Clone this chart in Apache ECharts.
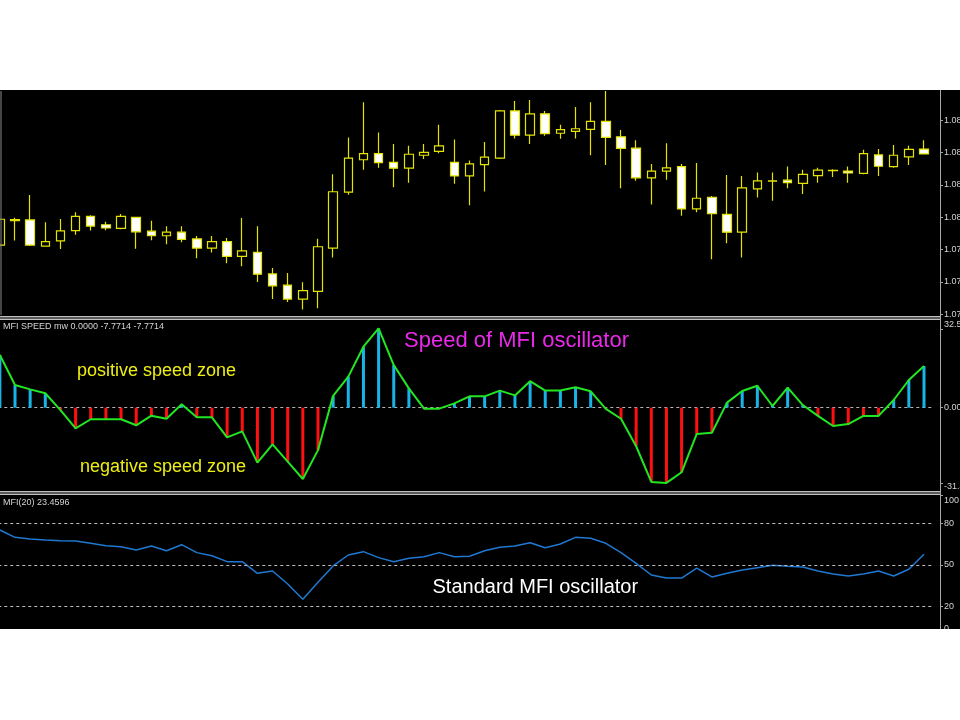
<!DOCTYPE html>
<html><head><meta charset="utf-8">
<script src="https://cdn.jsdelivr.net/npm/echarts@6/dist/echarts.min.js"></script>
<style>html,body{margin:0;padding:0;background:#fff}#c{width:960px;height:720px}</style>
</head><body><div id="c"></div>
<script>
// ---- data ----
const categories = Array.from({length: 62}, (_, i) => String(i));
const open  = [1.07914,1.07990,1.07992,1.07911,1.07927,1.07959,1.08003,1.07977,1.07966,1.08000,
               1.07957,1.07943,1.07954,1.07933,1.07905,1.07925,1.07879,1.07892,1.07825,1.07790,
               1.07747,1.07771,1.07905,1.08078,1.08178,1.08197,1.08170,1.08152,1.08192,1.08204,
               1.08170,1.08128,1.08163,1.08183,1.08329,1.08254,1.08320,1.08260,1.08266,1.08272,
               1.08297,1.08249,1.08214,1.08122,1.08143,1.08157,1.08026,1.08062,1.08009,1.07954,
               1.08088,1.08112,1.08115,1.08105,1.08129,1.08144,1.08143,1.08136,1.08193,1.08157,
               1.08187,1.08211];
const high  = [1.07998,1.07999,1.08069,1.07985,1.07995,1.08016,1.08006,1.07986,1.08010,1.08002,
               1.07989,1.07972,1.07972,1.07942,1.07942,1.07936,1.07998,1.07972,1.07843,1.07828,
               1.07799,1.07934,1.08133,1.08247,1.08356,1.08262,1.08227,1.08221,1.08227,1.08286,
               1.08241,1.08176,1.08233,1.08332,1.08360,1.08363,1.08329,1.08286,1.08341,1.08356,
               1.08391,1.08270,1.08238,1.08165,1.08229,1.08165,1.08168,1.08066,1.08131,1.08128,
               1.08139,1.08139,1.08157,1.08147,1.08153,1.08149,1.08157,1.08209,1.08211,1.08224,
               1.08221,1.08238];
const low   = [1.07910,1.07928,1.07911,1.07910,1.07902,1.07946,1.07959,1.07960,1.07963,1.07903,
               1.07929,1.07917,1.07923,1.07873,1.07891,1.07858,1.07849,1.07800,1.07747,1.07738,
               1.07715,1.07719,1.07876,1.08070,1.08147,1.08153,1.08093,1.08107,1.08180,1.08198,
               1.08104,1.08037,1.08080,1.08180,1.08244,1.08227,1.08252,1.08243,1.08244,1.08192,
               1.08162,1.08090,1.08113,1.08040,1.08116,1.08005,1.08016,1.07870,1.07920,1.07876,
               1.08061,1.08051,1.08090,1.08072,1.08107,1.08125,1.08107,1.08133,1.08128,1.08153,
               1.08162,1.08194];
const close = [1.07994,1.07993,1.07914,1.07925,1.07958,1.08003,1.07973,1.07967,1.08003,1.07955,
               1.07943,1.07954,1.07932,1.07905,1.07925,1.07879,1.07896,1.07824,1.07788,1.07747,
               1.07773,1.07909,1.08079,1.08183,1.08197,1.08169,1.08152,1.08195,1.08201,1.08221,
               1.08128,1.08165,1.08186,1.08329,1.08254,1.08320,1.08259,1.08271,1.08274,1.08297,
               1.08247,1.08213,1.08122,1.08143,1.08153,1.08026,1.08059,1.08011,1.07954,1.08091,
               1.08113,1.08113,1.08107,1.08133,1.08146,1.08145,1.08137,1.08197,1.08158,1.08192,
               1.08210,1.08196];
const speed = [21.9,9.4,7.6,6.0,-1.0,-8.6,-4.8,-4.8,-4.8,-7.3,
               -3.3,-4.6,1.4,-4.0,-4.0,-12.3,-9.8,-22.8,-15.2,-22.4,
               -29.6,-17.6,4.9,12.9,25.3,32.9,17.7,8.0,-0.4,-0.4,
               1.8,4.7,4.7,7.1,5.1,11.0,7.1,7.1,8.5,6.8,
               -0.5,-4.6,-16.0,-30.8,-31.2,-26.8,-10.9,-10.4,2.1,6.9,
               9.1,0.7,8.3,1.1,-3.4,-7.6,-6.8,-3.4,-3.4,3.2,
               11.5,17.3];
const mfi   = [75.2,69.9,68.7,68.0,67.5,67.3,65.6,63.9,63.2,60.8,
               63.7,60.3,64.6,58.9,56.7,52.4,52.4,44.0,45.7,36.3,
               25.3,37.6,49.3,57.2,59.6,55.3,52.4,54.8,56.0,58.9,
               56.0,56.3,60.3,62.7,63.7,66.0,62.4,65.1,69.9,69.2,
               65.6,58.9,51.2,42.8,40.6,40.6,47.8,41.4,44.0,46.4,
               48.1,49.8,49.1,48.6,45.7,43.5,42.1,43.5,45.7,42.1,
               46.9,57.7];
const priceTicks = [1.077,1.078,1.079,1.080,1.081,1.082,1.083,1.084];
const speedTicks = [32.5, 0, -31.4];
const mfiTicks   = [0, 20, 50, 80, 100];
const mfiLevels  = [80, 50, 20];
const speedTitle = 'MFI SPEED mw 0.0000 -7.7714 -7.7714';
const mfiTitle   = 'MFI(20) 23.4596';

// ---- chart ----
const chart = echarts.init(document.getElementById('c'), null, {renderer: 'canvas'});
const L = -7.725, R = 28.43;
const AX = '#a8a8a8', LBL = '#d4d4d4', FONT = '"Liberation Sans", Arial, sans-serif';
const CANDLE = '#e4e400';
const candleData = open.map((o, i) => [o, close[i], low[i], high[i]]);

function yAx(grid, extra) {
  return Object.assign({
    type: 'value', gridIndex: grid, position: 'right', offset: 8.4,
    axisLine: {show: true, lineStyle: {color: AX}},
    splitLine: {show: false}
  }, extra);
}
const rich = {
  up:   {padding: [0, 0, 9, 0], color: LBL, fontSize: 9, fontFamily: FONT},
  dn:   {padding: [7, 0, 0, 0], color: LBL, fontSize: 9, fontFamily: FONT},
  dn2:  {padding: [11, 0, 0, 0], color: LBL, fontSize: 9, fontFamily: FONT},
  up2:  {padding: [0, 0, 11, 0], color: LBL, fontSize: 9, fontFamily: FONT}
};
const lbl = (vals, fmt) => ({show: true, customValues: vals, formatter: fmt, color: LBL, fontSize: 9, fontFamily: FONT, margin: 4, rich: rich});
const tick = vals => ({show: true, customValues: vals, length: 3, lineStyle: {color: AX}});
const gridBase = {left: L, right: R, containLabel: false, outerBoundsMode: 'none'};

const option = {
  animation: false,
  backgroundColor: '#000',
  grid: [
    Object.assign({top: 88, height: 226.3}, gridBase),
    Object.assign({top: 320, height: 170.5}, gridBase),
    Object.assign({top: 495.5, height: 139}, gridBase)
  ],
  xAxis: [0, 1, 2].map(g => ({type: 'category', gridIndex: g, data: categories, boundaryGap: true, show: false})),
  yAxis: [
    yAx(0, {min: 1.077, max: 1.084, axisTick: tick(priceTicks),
      axisLabel: lbl(priceTicks, v => v.toFixed(5))}),
    yAx(1, {min: -34.36, max: 36.39, axisTick: tick(speedTicks),
      axisLabel: lbl(speedTicks, v => v > 0 ? '{up|' + v.toFixed(2) + '}' : (v < 0 ? '{dn|' + v.toFixed(2) + '}' : v.toFixed(4)))}),
    yAx(2, {min: 0, max: 100, axisTick: tick(mfiTicks),
      axisLabel: lbl(mfiTicks, v => v === 100 ? '{dn2|100}' : (v === 0 ? '{up2|0}' : String(v)))})
  ],
  series: [
    {
      type: 'candlestick', xAxisIndex: 0, yAxisIndex: 0, data: candleData, barWidth: 9,
      itemStyle: {color: '#000', color0: '#fff', borderColor: CANDLE, borderColor0: CANDLE, borderWidth: 1.2}
    },
    {
      type: 'bar', xAxisIndex: 1, yAxisIndex: 1, data: speed, barWidth: 3,
      itemStyle: {color: p => p.value >= 0 ? '#18b4e8' : '#ff1010'}
    },
    {
      type: 'line', xAxisIndex: 1, yAxisIndex: 1, data: speed, symbol: 'none', z: 4,
      lineStyle: {color: '#22e622', width: 2},
      markLine: {silent: true, symbol: 'none', label: {show: false}, z: 1,
        lineStyle: {type: [3, 3], color: '#b4b4b4', width: 1}, data: [{yAxis: 0}]}
    },
    {
      type: 'line', xAxisIndex: 2, yAxisIndex: 2, data: mfi, symbol: 'none',
      lineStyle: {color: '#1f78d1', width: 1.5},
      markLine: {silent: true, symbol: 'none', label: {show: false},
        lineStyle: {type: [3, 3], color: '#bcbcbc', width: 1}, data: mfiLevels.map(v => ({yAxis: v}))}
    }
  ],
  graphic: [
    {type: 'rect', shape: {x: 0, y: 316, width: 940, height: 4}, style: {fill: '#5a5a5a'}, z: 20},
    {type: 'line', shape: {x1: 0, y1: 316.5, x2: 940, y2: 316.5}, style: {stroke: '#c0c0c0', lineWidth: 1}, z: 21},
    {type: 'line', shape: {x1: 0, y1: 319.5, x2: 940, y2: 319.5}, style: {stroke: '#c0c0c0', lineWidth: 1}, z: 21},
    {type: 'rect', shape: {x: 0, y: 491, width: 940, height: 4}, style: {fill: '#5a5a5a'}, z: 20},
    {type: 'line', shape: {x1: 0, y1: 491.5, x2: 940, y2: 491.5}, style: {stroke: '#c0c0c0', lineWidth: 1}, z: 21},
    {type: 'line', shape: {x1: 0, y1: 494.5, x2: 940, y2: 494.5}, style: {stroke: '#c0c0c0', lineWidth: 1}, z: 21},
    {type: 'line', shape: {x1: 940.5, y1: 91, x2: 940.5, y2: 629}, style: {stroke: AX, lineWidth: 1}, z: 21},
    {type: 'line', shape: {x1: 1, y1: 91, x2: 1, y2: 315}, style: {stroke: '#8a8a8a', lineWidth: 1}, z: 21},
    {type: 'text', x: 3, y: 327, z: 30, style: {text: speedTitle, fill: LBL, fontSize: 9, fontFamily: FONT, verticalAlign: 'middle'}},
    {type: 'text', x: 3, y: 502.5, z: 30, style: {text: mfiTitle, fill: LBL, fontSize: 9, fontFamily: FONT, verticalAlign: 'middle'}},
    {type: 'text', x: 404, y: 340.5, z: 30, style: {text: 'Speed of MFI oscillator', fill: '#e82ae8', fontSize: 22, fontFamily: FONT, verticalAlign: 'middle'}},
    {type: 'text', x: 77, y: 371, z: 30, style: {text: 'positive speed zone', fill: '#eeee14', fontSize: 18, fontFamily: FONT, verticalAlign: 'middle'}},
    {type: 'text', x: 80, y: 467.5, z: 30, style: {text: 'negative speed zone', fill: '#eeee14', fontSize: 18, fontFamily: FONT, verticalAlign: 'middle'}},
    {type: 'text', x: 432.5, y: 587, z: 30, style: {text: 'Standard MFI oscillator', fill: '#ffffff', fontSize: 20, fontFamily: FONT, verticalAlign: 'middle'}},
    {type: 'rect', shape: {x: 0, y: 0, width: 960, height: 90}, style: {fill: '#fff'}, z: 100},
    {type: 'rect', shape: {x: 0, y: 629, width: 960, height: 91}, style: {fill: '#fff'}, z: 100}
  ]
};
chart.setOption(option);
</script>
</body></html>
